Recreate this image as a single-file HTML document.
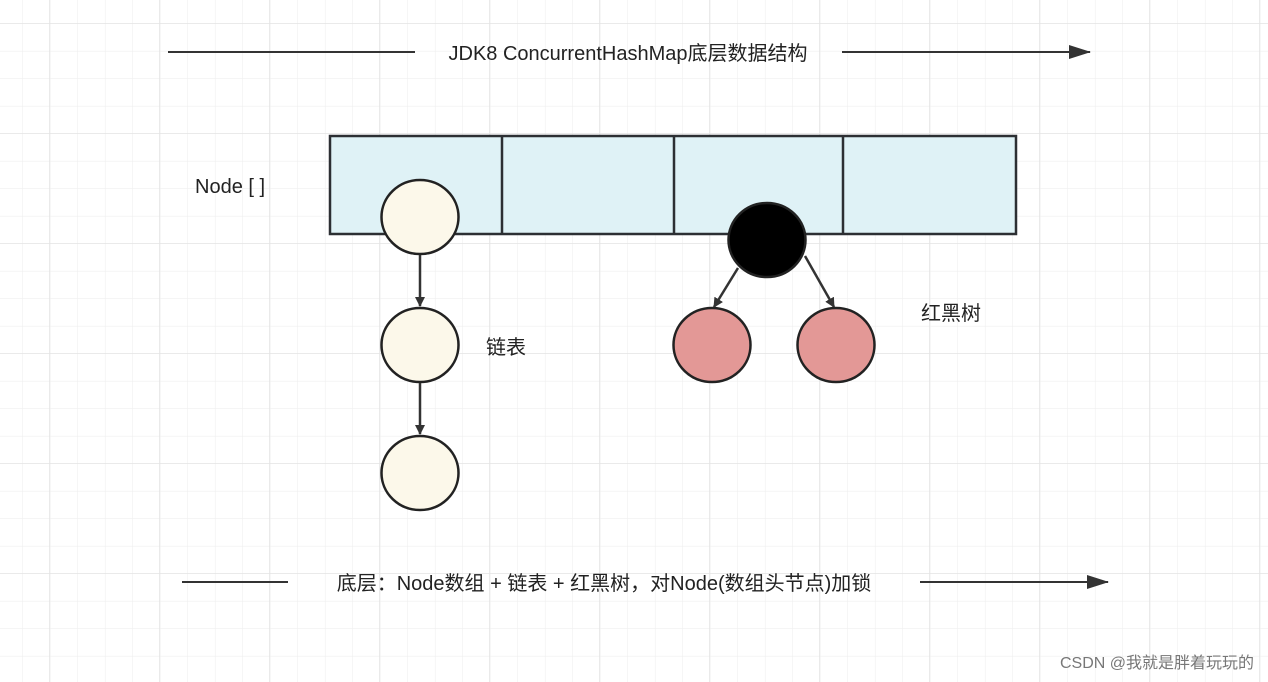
<!DOCTYPE html>
<html><head><meta charset="utf-8"><style>
html,body{margin:0;padding:0;background:#fff}
svg{display:block}
text{font-family:"Liberation Sans","Noto Sans CJK SC",sans-serif;fill:#222}
</style></head><body>
<svg width="1268" height="682" viewBox="0 0 1268 682" xmlns="http://www.w3.org/2000/svg">
<defs>
<pattern id="minor" x="-4.5" y="-3.5" width="27.5" height="27.5" patternUnits="userSpaceOnUse">
<path d="M27.5 0V27.5M0 27.5H27.5" stroke="#efefef" stroke-width="1.2" fill="none"/>
</pattern>
<pattern id="major" x="-60" y="-86" width="110" height="110" patternUnits="userSpaceOnUse">
<path d="M110 0V110M0 110H110" stroke="#e4e4e4" stroke-width="1.6" fill="none"/>
</pattern>
<marker id="ah" markerWidth="10" markerHeight="10" refX="9" refY="5" orient="auto" markerUnits="userSpaceOnUse" viewBox="0 0 10 10">
<path d="M0 0L10 5L0 10z" fill="#333"/>
</marker>
<marker id="ah2" markerWidth="22" markerHeight="14" refX="21" refY="7" orient="auto" markerUnits="userSpaceOnUse">
<path d="M0 0L22 7L0 14z" fill="#333"/>
</marker>
</defs>
<rect width="1268" height="682" fill="url(#minor)"/>
<rect width="1268" height="682" fill="url(#major)"/>

<line x1="168" y1="52" x2="415" y2="52" stroke="#333" stroke-width="2"/>
<line x1="842" y1="52" x2="1090" y2="52" stroke="#333" stroke-width="2" marker-end="url(#ah2)"/>
<text x="628" y="60" font-size="20" text-anchor="middle">JDK8 ConcurrentHashMap底层数据结构</text>

<text x="195" y="193" font-size="20">Node [ ]</text>

<rect x="330" y="136" width="686" height="98" fill="#dff2f6" stroke="#2c2f33" stroke-width="2.5"/>
<line x1="502" y1="136" x2="502" y2="234" stroke="#2c2f33" stroke-width="2.5"/>
<line x1="674" y1="136" x2="674" y2="234" stroke="#2c2f33" stroke-width="2.5"/>
<line x1="843" y1="136" x2="843" y2="234" stroke="#2c2f33" stroke-width="2.5"/>

<ellipse cx="420" cy="217" rx="38.5" ry="37" fill="#fcf8ea" stroke="#222" stroke-width="2.5"/>
<line x1="420" y1="255" x2="420" y2="306" stroke="#333" stroke-width="2.5" marker-end="url(#ah)"/>
<ellipse cx="420" cy="345" rx="38.5" ry="37" fill="#fcf8ea" stroke="#222" stroke-width="2.5"/>
<line x1="420" y1="383" x2="420" y2="434" stroke="#333" stroke-width="2.5" marker-end="url(#ah)"/>
<ellipse cx="420" cy="473" rx="38.5" ry="37" fill="#fcf8ea" stroke="#222" stroke-width="2.5"/>
<text x="486" y="354" font-size="20">链表</text>

<ellipse cx="767" cy="240" rx="38.5" ry="37" fill="#000" stroke="#222" stroke-width="2.5"/>
<line x1="738" y1="268" x2="714" y2="307" stroke="#333" stroke-width="2.5" marker-end="url(#ah)"/>
<line x1="805" y1="256" x2="834" y2="307" stroke="#333" stroke-width="2.5" marker-end="url(#ah)"/>
<ellipse cx="712" cy="345" rx="38.5" ry="37" fill="#e39896" stroke="#222" stroke-width="2.5"/>
<ellipse cx="836" cy="345" rx="38.5" ry="37" fill="#e39896" stroke="#222" stroke-width="2.5"/>
<text x="921" y="320" font-size="20">红黑树</text>

<line x1="182" y1="582" x2="288" y2="582" stroke="#333" stroke-width="2"/>
<line x1="920" y1="582" x2="1108" y2="582" stroke="#333" stroke-width="2" marker-end="url(#ah2)"/>
<text x="604" y="590" font-size="20" text-anchor="middle">底层：Node数组 + 链表 + 红黑树，对Node(数组头节点)加锁</text>

<text x="1254" y="668" font-size="16" text-anchor="end" fill="#666" style="fill:#777">CSDN @我就是胖着玩玩的</text>
</svg>
</body></html>
